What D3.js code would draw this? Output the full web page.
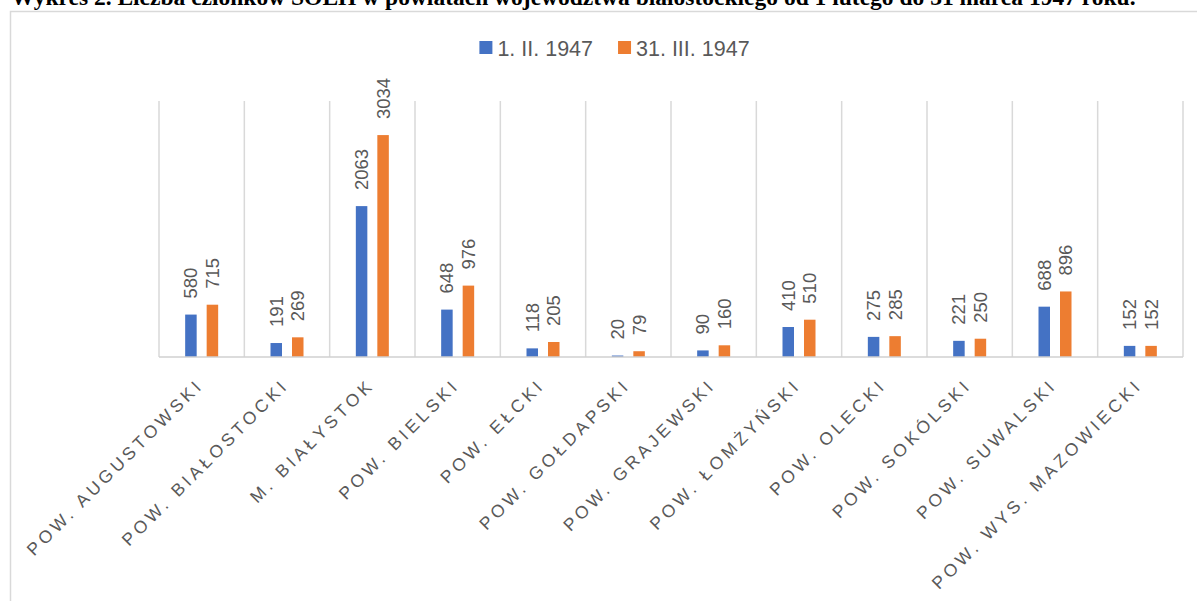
<!DOCTYPE html>
<html>
<head>
<meta charset="utf-8">
<script src="https://cdn.jsdelivr.net/npm/d3@7"></script>
<style>
  body { margin: 0; background: #fff; }
  svg { display: block; }
</style>
</head>
<body>
<svg width="1197" height="601"></svg>
<script>
// --- data ---
const titleText = "Wykres 2. Liczba członków SOLH w powiatach województwa białostockiego od 1 lutego do 31 marca 1947 roku.";
const categories = ["POW. AUGUSTOWSKI", "POW. BIAŁOSTOCKI", "M. BIAŁYSTOK", "POW. BIELSKI", "POW. EŁCKI",
  "POW. GOŁDAPSKI", "POW. GRAJEWSKI", "POW. ŁOMŻYŃSKI", "POW. OLECKI", "POW. SOKÓLSKI",
  "POW. SUWALSKI", "POW. WYS. MAZOWIECKI"];
const seriesNames = ["1. II. 1947", "31. III. 1947"];
const febValues = [580, 191, 2063, 648, 118, 20, 90, 410, 275, 221, 688, 152];
const marValues = [715, 269, 3034, 976, 205, 79, 160, 510, 285, 250, 896, 152];
const seriesColors = ["#4472C4", "#ED7D31"];

// --- setup ---
const svg = d3.select("svg");
const plot = { left: 159, right: 1183, top: 101, bottom: 357 };
const grey = "#595959";

// outer chart border
svg.append("rect")
  .attr("x", 10.5).attr("y", 11.5)
  .attr("width", 1300).attr("height", 700)
  .attr("fill", "none").attr("stroke", "#d9d9d9").attr("stroke-width", 1.5);

// title (partially cut off at the top, as in the source)
svg.append("text")
  .attr("x", 11).attr("y", 5)
  .attr("font-family", "Liberation Serif, Times New Roman, serif")
  .attr("font-weight", "bold").attr("font-size", 23.5)
  .attr("fill", "#000")
  .text(titleText);

const x0 = d3.scaleBand().domain(categories).range([plot.left, plot.right]).paddingInner(0).paddingOuter(0);
const x1 = d3.scaleBand().domain(seriesNames).range([-16.5, 16.5]).paddingInner(0.465);
const y = d3.scaleLinear().domain([0, 3500]).range([plot.bottom, plot.top]);

// vertical gridlines at category boundaries
const bounds = categories.map(c => x0(c)).concat([plot.right]);
svg.append("g").selectAll("line").data(bounds).join("line")
  .attr("x1", d => d).attr("x2", d => d)
  .attr("y1", plot.top).attr("y2", plot.bottom)
  .attr("stroke", "#d9d9d9").attr("stroke-width", 1.5);

// bars
const rows = categories.map((c, i) => ({ cat: c, vals: [febValues[i], marValues[i]] }));
const groups = svg.append("g").selectAll("g").data(rows).join("g")
  .attr("transform", d => `translate(${x0(d.cat) + x0.bandwidth() / 2},0)`);

groups.selectAll("rect").data(d => d.vals.map((v, j) => ({ key: seriesNames[j], v, j }))).join("rect")
  .attr("x", d => x1(d.key))
  .attr("width", x1.bandwidth())
  .attr("y", d => y(d.v))
  .attr("height", d => y(0) - y(d.v))
  .attr("fill", d => seriesColors[d.j]);

// data labels, rotated
groups.selectAll("text").data(d => d.vals.map((v, j) => ({ key: seriesNames[j], v, j }))).join("text")
  .attr("transform", d => `translate(${x1(d.key) + x1.bandwidth() / 2},${y(d.v) - 16}) rotate(-90)`)
  .attr("dy", "0.35em")
  .attr("font-family", "Liberation Sans, Arial, sans-serif")
  .attr("font-size", 18.5)
  .attr("fill", grey)
  .text(d => d.v);

// x axis baseline
svg.append("line")
  .attr("x1", plot.left).attr("x2", plot.right)
  .attr("y1", plot.bottom).attr("y2", plot.bottom)
  .attr("stroke", "#d0d0d0").attr("stroke-width", 1.5);

// category labels
svg.append("g").selectAll("text").data(categories).join("text")
  .attr("transform", d => `translate(${x0(d) + x0.bandwidth() / 2 + 3},386) rotate(-45)`)
  .attr("text-anchor", "end")
  .attr("font-family", "Liberation Sans, Arial, sans-serif")
  .attr("font-size", 17.5)
  .attr("letter-spacing", 3.8)
  .attr("fill", grey)
  .text(d => d);

// legend
const legend = svg.append("g");
let lx = 0;
seriesNames.forEach((name, i) => {
  const it = legend.append("g");
  it.append("rect").attr("x", 0).attr("y", -7).attr("width", 13).attr("height", 13).attr("fill", seriesColors[i]);
  const t = it.append("text").attr("x", 18).attr("y", 0).attr("dy", "0.35em")
    .attr("font-family", "Liberation Sans, Arial, sans-serif")
    .attr("font-size", 21.5).attr("fill", grey).text(name);
  const w = 18 + t.node().getComputedTextLength();
  it.attr("transform", `translate(${lx},0)`);
  lx += w + 25;
});
const legendW = lx - 25;
legend.attr("transform", `translate(${614.5 - legendW / 2},48)`);
</script>
</body>
</html>
